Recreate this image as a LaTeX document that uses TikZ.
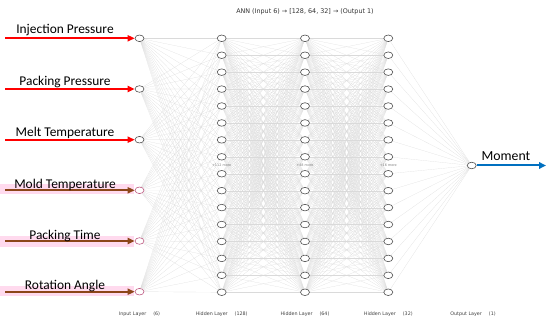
\documentclass[tikz,border=0pt]{standalone}
\usepackage{fontspec}
\setmainfont{DejaVu Sans}
\newfontfamily\calib{Carlito}
\usetikzlibrary{arrows.meta,shapes.geometric}
\pgfdeclarelayer{bg}
\pgfdeclarelayer{bbg}
\pgfsetlayers{bbg,bg,main}
\definecolor{arrred}{RGB}{255,0,0}
\definecolor{arrbrown}{RGB}{140,70,25}
\definecolor{hlpink}{RGB}{255,218,238}
\definecolor{moblue}{RGB}{0,112,192}
\definecolor{nodegray}{RGB}{80,80,80}
\definecolor{pinknode}{RGB}{190,90,130}
\definecolor{edgegray}{RGB}{218,218,218}
\tikzset{
  neuron/.style={ellipse,draw=nodegray,line width=0.6pt,fill=white,minimum width=9pt,minimum height=6.6pt,inner sep=0pt},
  pinkneuron/.style={neuron,draw=pinknode},
  edge/.style={draw=edgegray,line width=0.15pt},
  inarrow/.style={line width=1.8pt,-{Triangle[length=7pt,width=6pt]}},
  inlabel/.style={font=\calib\fontsize{13.4}{13.4}\selectfont,anchor=base},
  morelabel/.style={font=\fontsize{3.4}{4}\selectfont,text=gray},
  layerlabel/.style={font=\fontsize{4.8}{5}\selectfont,text=black!75},
}
\begin{document}
\begin{tikzpicture}[x=1pt,y=-1pt]
\useasboundingbox (0,0) rectangle (550,323);
% title
\node[font=\fontsize{6.4}{7}\selectfont,text=black!80] (title) at (305,12) {ANN (Input 6) → [128, 64, 32] → (Output 1)};
% input neurons
\foreach \i/\y in {1/38.3,2/89,3/139.7} \node[neuron] (in\i) at (139.5,\y) {};
\foreach \i/\y in {4/190.3,5/241,6/291.7} \node[pinkneuron] (in\i) at (139.5,\y) {};
% hidden neurons
\foreach \j in {1,...,16} {
  \pgfmathsetmacro{\yy}{38.3+(\j-1)*16.93}
  \node[neuron] (ha\j) at (221.7,\yy) {};
  \node[neuron] (hb\j) at (305,\yy) {};
  \node[neuron] (hc\j) at (388.3,\yy) {};
}
\node[neuron] (out) at (471.7,165.5) {};
% "more" labels
\node[morelabel] (ma) at (221.7,165.2) {+112 more};
\node[morelabel] (mb) at (305,165.2) {+48 more};
\node[morelabel] (mc) at (388.3,165.2) {+16 more};
% edges
\begin{pgfonlayer}{bg}
\foreach \i in {1,...,6} \foreach \j in {1,...,16} \draw[edge] (in\i) -- (ha\j);
\foreach \i in {1,...,16} \foreach \j in {1,...,16} {
  \draw[edge] (ha\i) -- (hb\j);
  \draw[edge] (hb\i) -- (hc\j);
}
\foreach \i in {1,...,16} \draw[edge] (hc\i) -- (out);
\end{pgfonlayer}
% pink highlights
\begin{pgfonlayer}{bbg}
\fill[hlpink] (0,184) rectangle (134,194.5);
\fill[hlpink] (0,236.5) rectangle (134,247.5);
\fill[hlpink] (0,286.5) rectangle (134,296);
\end{pgfonlayer}
% input arrows
\foreach \i/\y in {1/38.3,2/89,3/139.7} {
  \coordinate (s\i) at (5,\y);
  \draw[inarrow,arrred] (s\i) -- (in\i);
}
\foreach \i/\y in {4/190.3,5/241,6/291.7} {
  \coordinate (s\i) at (5,\y);
  \draw[inarrow,arrbrown] (s\i) -- (in\i);
}
% input labels
\node[inlabel] (l1) at (65,33.5) {Injection Pressure};
\node[inlabel] (l2) at (65,85.5) {Packing Pressure};
\node[inlabel] (l3) at (65,136.5) {Melt Temperature};
\node[inlabel] (l4) at (65,188.3) {Mold Temperature};
\node[inlabel] (l5) at (65,239.3) {Packing Time};
\node[inlabel] (l6) at (65,290) {Rotation Angle};
% output arrow
\coordinate (oend) at (546,165.5);
\draw[line width=2pt,moblue,-{Triangle[length=7pt,width=6.5pt]}] (out) -- (oend);
\node[inlabel,font=\calib\fontsize{13.8}{13.8}\selectfont] (mlab) at (506,160.5) {Moment};
% layer labels
\node[layerlabel] (ll1) at (139.5,314.5) {Input Layer\hspace{7pt}(6)};
\node[layerlabel] (ll2) at (221.7,314.5) {Hidden Layer\hspace{7pt}(128)};
\node[layerlabel] (ll3) at (305,314.5) {Hidden Layer\hspace{7pt}(64)};
\node[layerlabel] (ll4) at (388.3,314.5) {Hidden Layer\hspace{7pt}(32)};
\node[layerlabel] (ll5) at (473,314.5) {Output Layer\hspace{7pt}(1)};
\end{tikzpicture}
\end{document}
